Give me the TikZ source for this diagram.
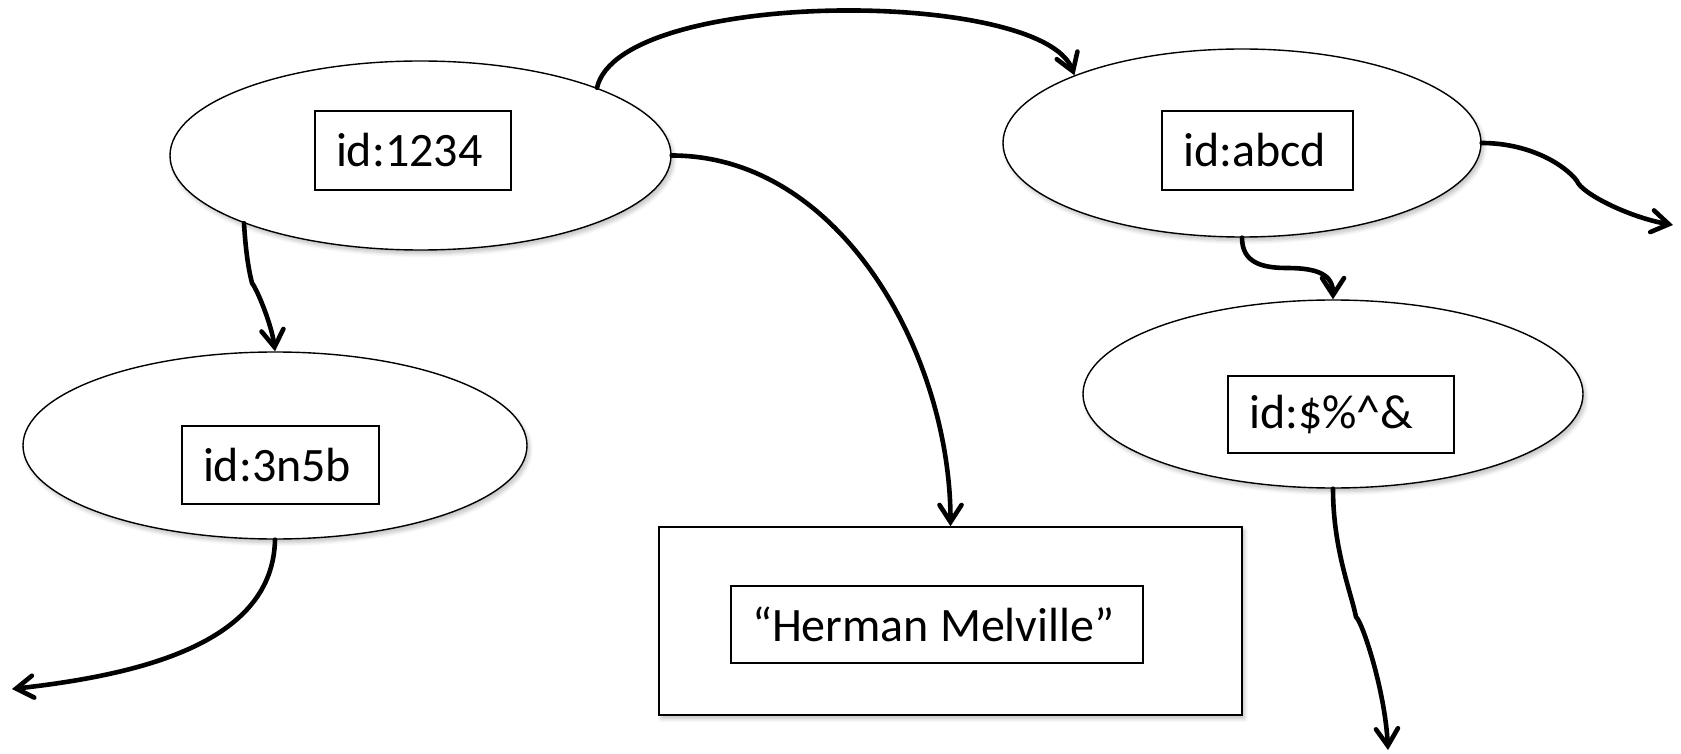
\documentclass[tikz,border=0pt]{standalone}
\usepackage{fontspec}
\setmainfont{Carlito}
\usetikzlibrary{shapes.geometric,arrows.meta,shadows.blur}

\newcommand{\idtext}[2]{\makebox[#1][l]{#2}}

\begin{document}
\begin{tikzpicture}[x=0.5pt,y=-0.5pt,
  every node/.style={font=\fontsize{24}{28}\selectfont},
  softshadow/.style={blur shadow={shadow xshift=1.2pt, shadow yshift=-1.8pt,
      shadow blur steps=6, shadow blur radius=2pt, shadow opacity=25}},
  oval/.style={ellipse, draw, line width=0.7pt, fill=white, inner sep=0pt, softshadow},
  valbox/.style={rectangle, draw, line width=0.8pt, fill=white, inner sep=0pt, softshadow},
  idbox/.style={rectangle, draw, line width=0.75pt, fill=white, inner ysep=0pt,
      inner xsep=10.5pt},
  conn/.style={line width=2.3pt, line cap=round,
      -{Straight Barb[length=8.5pt,width=11pt,line cap=round]}}
]
\useasboundingbox (0,0) rectangle (1681,754);

% resources drawn as ellipses, the literal as a rectangle
\node[oval, minimum width=250.5pt, minimum height=94.5pt] (a) at (420.5,155.5) {};
\node[oval, minimum width=239pt,   minimum height=94pt]   (b) at (1242,143) {};
\node[oval, minimum width=252pt,   minimum height=93.5pt] (c) at (275,445.5) {};
\node[oval, minimum width=250pt,   minimum height=94pt]   (d) at (1333,394) {};
\node[valbox, minimum width=291.5pt, minimum height=94pt] (e) at (950.5,621) {};

% identifiers, set flush left inside their boxes
\node[idbox, minimum height=39.5pt] (ida) at (413,150.5)   {\idtext{77pt}{id:1234}};
\node[idbox, minimum height=39.5pt] (idb) at (1257.5,150.5){\idtext{74.5pt}{id:abcd}};
\node[idbox, minimum height=39pt]   (idc) at (280.5,465)   {\idtext{77.5pt}{id:3n5b}};
\node[idbox, minimum height=38.5pt] (idd) at (1341,414.5)  {\idtext{92pt}{id:\$\%\textasciicircum\&}};
\node[idbox, minimum height=38.5pt] (ide) at (937,624.5)   {\idtext{185pt}{“Herman Melville”}};

% loose ends of outgoing edges
\coordinate (endc) at (12,689);
\coordinate (endb) at (1673,225);
\coordinate (endd) at (1388,750);

% edges
\draw[conn] (a.21) .. controls +(23,-100) and +(-32,-87) .. (b.158);
\draw[conn] (a.east) .. controls +(170,0) and +(0,-170) .. (e.north);
\draw[conn] (a.201) .. controls +(2,35) and +(-2,-8) .. (252,283)
                    .. controls +(6,8) and +(-3,-25) .. (c.north);
\draw[conn] (c.south) .. controls +(-2,101) and +(135,-15) .. (endc);
\draw[conn] (b.east) .. controls +(48,0) and +(-12,-16) .. (1577,181)
                     .. controls +(4,12) and +(-45,-8) .. (endb);
\draw[conn] (b.south) .. controls +(0,25) and +(-25,0) .. (1287,268)
                      .. controls +(30,0) and +(0,-25) .. (d.north);
\draw[conn] (d.south) .. controls +(0,60) and +(-5,-25) .. (1356,617)
                      .. controls +(6,4) and +(-3,-60) .. (endd);
\end{tikzpicture}
\end{document}
